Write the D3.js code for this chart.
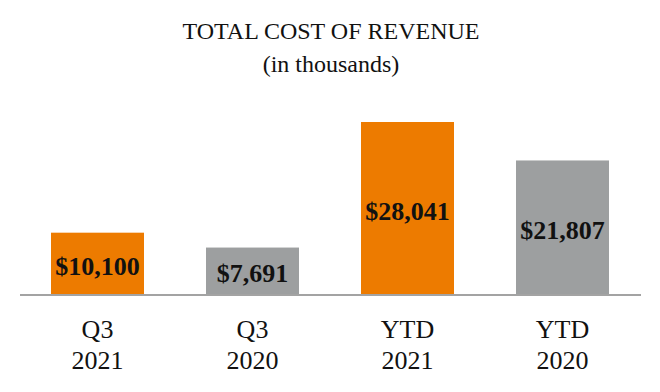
<!DOCTYPE html>
<html><head><meta charset="utf-8">
<script src="https://cdn.jsdelivr.net/npm/d3@7"></script>
<style>html,body{margin:0;padding:0;background:#fff}</style>
</head><body>
<svg id="chart" width="660" height="392"></svg>
<script>
const periods = ["Q3", "Q3", "YTD", "YTD"];
const years = ["2021", "2020", "2021", "2020"];
const values = [10100, 7691, 28041, 21807];
const barColors = ["#ED7B00", "#9D9FA0", "#ED7B00", "#9D9FA0"];
const titleLines = ["TOTAL COST OF REVENUE", "(in thousands)"];

const svg = d3.select("#chart");
const font = "'Liberation Serif','Times New Roman',serif";
const baseline = 295;
const idx = d3.range(values.length);

const x = d3.scaleBand().domain(idx).range([20, 640]).paddingInner(0.4).paddingOuter(0.2);
const y = d3.scaleLinear().domain([0, 28041]).range([baseline, 122]);

svg.selectAll("text.title").data(titleLines).enter().append("text")
  .attr("x", 331).attr("y", (d, i) => 39 + i * 33)
  .attr("text-anchor", "middle").attr("font-family", font).attr("font-size", 24)
  .attr("fill", "#111").text(d => d);

svg.selectAll("rect.bar").data(idx).enter().append("rect")
  .attr("x", i => x(i)).attr("width", x.bandwidth())
  .attr("y", i => y(values[i])).attr("height", i => baseline - y(values[i]))
  .attr("fill", i => barColors[i]);

svg.append("line").attr("x1", 20).attr("x2", 641).attr("y1", baseline).attr("y2", baseline)
  .attr("stroke", "#A3A3A3").attr("stroke-width", 2);

const fmt = d3.format(",");
svg.selectAll("text.val").data(idx).enter().append("text")
  .attr("x", i => x(i) + x.bandwidth() / 2)
  .attr("y", i => (y(values[i]) + baseline) / 2 + 11)
  .attr("text-anchor", "middle").attr("font-family", font).attr("font-weight", "bold")
  .attr("font-size", 26).attr("fill", "#111").text(i => "$" + fmt(values[i]));

const cat = svg.selectAll("g.cat").data(idx).enter().append("g")
  .attr("transform", i => `translate(${x(i) + x.bandwidth() / 2},0)`);
cat.append("text").attr("y", 338).attr("text-anchor", "middle").attr("font-family", font)
  .attr("font-size", 26).attr("fill", "#111").text(i => periods[i]);
cat.append("text").attr("y", 369).attr("text-anchor", "middle").attr("font-family", font)
  .attr("font-size", 26).attr("fill", "#111").text(i => years[i]);
</script>
</body></html>
